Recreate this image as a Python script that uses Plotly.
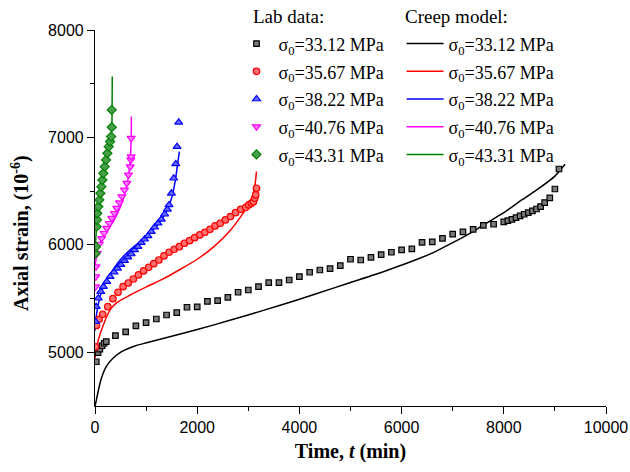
import plotly.graph_objects as go

labels = ["σ<sub>0</sub>=33.12 MPa", "σ<sub>0</sub>=35.67 MPa", "σ<sub>0</sub>=38.22 MPa",
          "σ<sub>0</sub>=40.76 MPa", "σ<sub>0</sub>=43.31 MPa"]
colors = ["#000000", "#ff0000", "#0000ff", "#ff00ff", "#008000"]
fills = ["#7a7a7a", "#ff7070", "#6a6aff", "#ff80ff", "#4aa04a"]
symbols = ["square", "circle", "triangle-up", "triangle-down", "diamond"]
x_ticks = [0, 2000, 4000, 6000, 8000, 10000]
x_ticktext = ["0", "2000", "4000", "6000", "8000", "10000"]
y_ticks = [5000, 6000, 7000, 8000]

# Lab data
lab_t_33 = [25, 60, 95, 140, 180, 220] + list(range(400, 8001, 200)) + list(range(8080, 8801, 80)) + [8900, 9000, 9080]
lab_e_33 = [4912, 4996, 5030, 5061, 5084, 5100,
            5155, 5190, 5245, 5276, 5310, 5347, 5369, 5419, 5422, 5474, 5480, 5512, 5559, 5580,
            5611, 5648, 5648, 5673, 5704, 5745, 5766, 5779, 5807, 5866, 5859, 5884, 5909, 5931,
            5953, 5962, 6024, 6027, 6061, 6099, 6120, 6145, 6182, 6192, 6213,
            6225, 6238, 6253, 6269, 6285, 6300, 6316, 6334, 6356, 6393,
            6437, 6520, 6706]
lab_t_35 = [10, 30, 80, 150, 250, 350, 450, 550, 650, 750, 850, 950, 1050, 1150, 1250, 1350, 1450,
            1550, 1650, 1750, 1850, 1950, 2050, 2150, 2250, 2350, 2450, 2550, 2650, 2750, 2850, 2950,
            3010, 3060, 3100, 3125, 3145, 3160]
lab_e_35 = [5050, 5250, 5307, 5354, 5425, 5499, 5559, 5611, 5645, 5682, 5720, 5757, 5791, 5825, 5859,
            5897, 5931, 5959, 5983, 6015, 6039, 6067, 6092, 6117, 6145, 6176, 6201, 6232, 6263, 6300,
            6331, 6350, 6372, 6387, 6402, 6434, 6465, 6527]
lab_t_38 = [10, 25, 65, 112, 164, 230, 295, 374, 439, 505, 577, 643, 708, 773, 840, 905, 970, 1036,
            1101, 1166, 1233, 1298, 1363, 1416, 1449, 1495, 1540, 1580, 1606, 1638]
lab_e_38 = [5285, 5425, 5503, 5564, 5611, 5657, 5704, 5745, 5782, 5816, 5853, 5885, 5915, 5953, 5983,
            6020, 6052, 6083, 6123, 6164, 6201, 6238, 6285, 6331, 6372, 6480, 6620, 6753, 6914, 7141]
lab_t_40 = [10, 15, 20, 45, 85, 131, 177, 230, 282, 328, 380, 426, 478, 525, 577, 623, 655, 688, 702,
            708, 708]
lab_e_40 = [5611, 5704, 5797, 5922, 6008, 6061, 6108, 6155, 6201, 6248, 6294, 6341, 6393, 6449, 6511,
            6574, 6651, 6728, 6791, 6821, 6993]
lab_t_43 = [10, 20, 33, 40, 46, 65, 85, 105, 125, 144, 163, 190, 216, 242, 269, 295, 315, 328, 328]
lab_e_43 = [5920, 5983, 6169, 6232, 6294, 6356, 6418, 6480, 6542, 6604, 6666, 6728, 6791, 6853, 6914,
            6961, 7008, 7095, 7256]

# Creep model
mod_t_33 = [0, 6, 60, 125, 220, 350, 520, 780, 1010, 1670, 2330, 2980, 3640, 4300, 5000, 5670, 6330,
            6650, 7000, 7310, 7600, 8000, 8360, 8700, 9000, 9200]
mod_e_33 = [4500, 4509, 4633, 4758, 4866, 4944, 5006, 5059, 5089, 5170, 5255, 5345, 5440, 5540, 5650,
            5755, 5870, 5935, 6020, 6100, 6185, 6300, 6420, 6530, 6640, 6750]
mod_t_35 = [0, 20, 65, 163, 295, 426, 688, 1016, 1343, 1672, 2000, 2327, 2655, 2852, 2983, 3081, 3127, 3160]
mod_e_35 = [4944, 5000, 5115, 5254, 5394, 5462, 5533, 5611, 5685, 5773, 5866, 5983, 6139, 6263, 6356,
            6449, 6542, 6682]
mod_t_38 = [0, 15, 33, 98, 197, 328, 492, 688, 885, 1082, 1278, 1410, 1508, 1573, 1619, 1652]
mod_e_38 = [5200, 5300, 5363, 5518, 5642, 5750, 5859, 5953, 6030, 6114, 6216, 6325, 6449, 6604, 6760, 6868]
mod_t_40 = [0, 65, 163, 295, 426, 557, 655, 688, 708, 712]
mod_e_40 = [5797, 5983, 6076, 6169, 6278, 6434, 6635, 6791, 6977, 7194]
mod_t_43 = [0, 30, 80, 150, 220, 280, 315, 330, 335, 338]
mod_e_43 = [5953, 6150, 6380, 6600, 6790, 6930, 7000, 7100, 7300, 7566]

lab = [(lab_t_33, lab_e_33), (lab_t_35, lab_e_35), (lab_t_38, lab_e_38), (lab_t_40, lab_e_40), (lab_t_43, lab_e_43)]
mod = [(mod_t_33, mod_e_33), (mod_t_35, mod_e_35), (mod_t_38, mod_e_38), (mod_t_40, mod_e_40), (mod_t_43, mod_e_43)]
msizes = [5.5, 6.5, 7, 7, 7]

fig = go.Figure()
for i in range(5):
    t, e = mod[i]
    fig.add_trace(go.Scatter(x=t, y=e, mode="lines", name="<span style='font-size:18px'>" + labels[i] + "</span>",
                             legend="legend2",
                             line=dict(color=colors[i], width=1.5, shape="spline", smoothing=0.6)))
for i in range(5):
    t, e = lab[i]
    fig.add_trace(go.Scatter(x=t, y=e, mode="markers", name="<span style='font-size:18px'>" + labels[i] + "</span>",
                             legend="legend",
                             marker=dict(symbol=symbols[i], size=msizes[i], color=fills[i],
                                         line=dict(color=colors[i], width=1.2))))

serif = "Liberation Serif"
sans = "Liberation Sans"
legfont = dict(family=serif, size=19, color="black")
fig.update_layout(
    width=630, height=472,
    margin=dict(l=95, r=24, t=30, b=66),
    paper_bgcolor="white", plot_bgcolor="white",
    showlegend=True,
    legend=dict(x=0.273, y=1.014, xanchor="left", yanchor="top", font=legfont, itemwidth=34,
                bgcolor="rgba(0,0,0,0)", traceorder="normal", tracegroupgap=0),
    legend2=dict(x=0.600, y=1.014, xanchor="left", yanchor="top", font=legfont, itemwidth=37,
                 bgcolor="rgba(0,0,0,0)", traceorder="normal", tracegroupgap=0),
    xaxis=dict(range=[0, 10000], tickvals=x_ticks, ticktext=x_ticktext, automargin=False,
               ticks="outside", ticklen=7, tickwidth=1.2, tickcolor="black",
               showline=True, linecolor="black", linewidth=1.2, showgrid=False, zeroline=False,
               tickfont=dict(family=sans, size=16, color="black"),
               minor=dict(tickvals=[1000, 3000, 5000, 7000, 9000], ticks="outside", ticklen=4,
                          tickwidth=1.2, tickcolor="black"),
               title=dict(text="Time, <i>t</i> (min)", font=dict(family=serif, size=20, color="black", weight="bold"),
                          standoff=8)),
    yaxis=dict(range=[4500, 8000], tickvals=y_ticks, automargin=False,
               ticks="outside", ticklen=7, tickwidth=1.2, tickcolor="black",
               showline=True, linecolor="black", linewidth=1.2, showgrid=False, zeroline=False,
               tickfont=dict(family=sans, size=16, color="black"),
               minor=dict(tickvals=[5500, 6500, 7500], ticks="outside", ticklen=4,
                          tickwidth=1.2, tickcolor="black")),
    annotations=[
        dict(text="Lab data:", xref="paper", yref="paper", x=0.305, y=1.035, xanchor="left", yanchor="middle",
             showarrow=False, font=dict(family=serif, size=19, color="black")),
        dict(text="Creep model:", xref="paper", yref="paper", x=0.602, y=1.035, xanchor="left", yanchor="middle",
             showarrow=False, font=dict(family=serif, size=19, color="black")),
        dict(text="Axial strain, (10<sup>-6</sup>)", xref="paper", yref="paper", x=-0.147, y=0.46,
             xanchor="center", yanchor="middle", textangle=-90, showarrow=False,
             font=dict(family=serif, size=20, color="black", weight="bold")),
    ],
)
fig.write_html("out.html")
